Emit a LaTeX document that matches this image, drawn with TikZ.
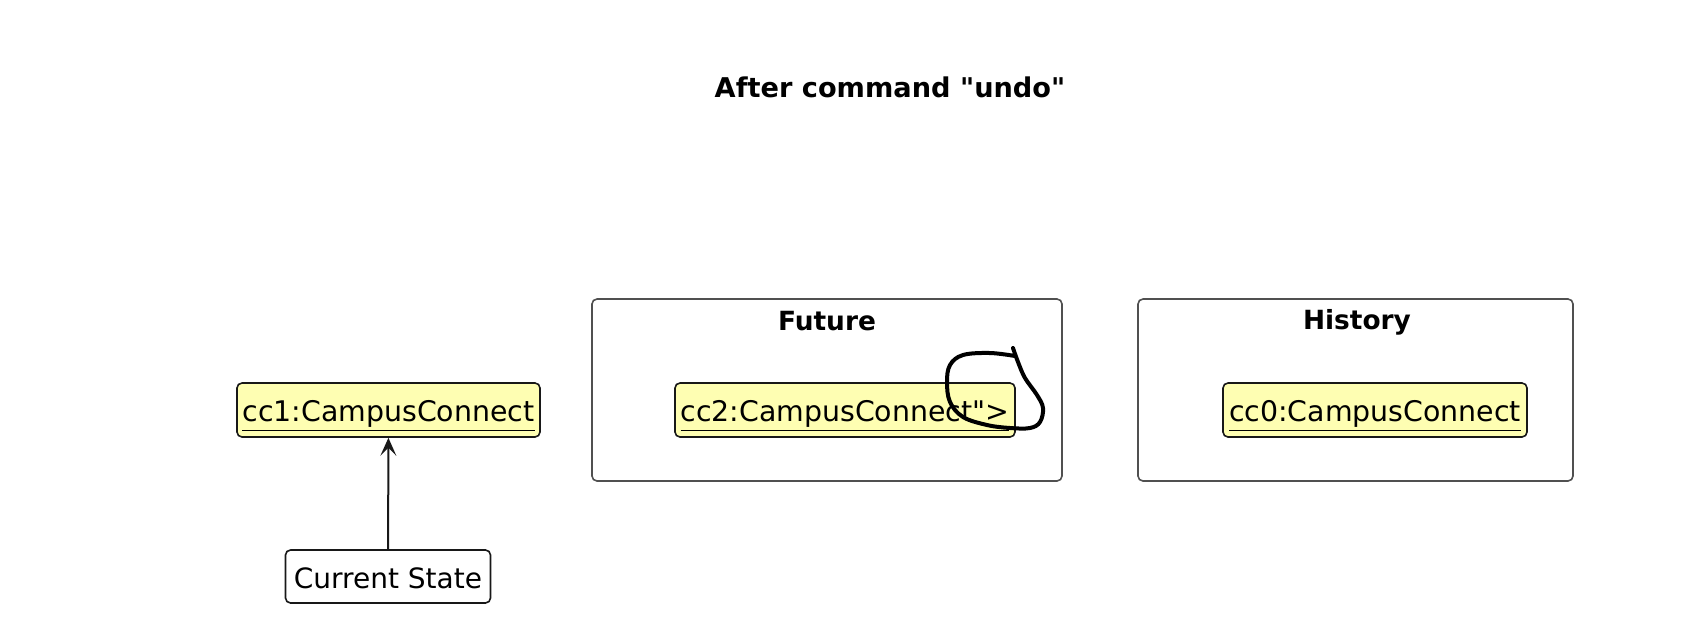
\documentclass[tikz,border=0pt]{standalone}
\usepackage{fontspec}
\setmainfont{DejaVu Sans}
\usetikzlibrary{arrows.meta}
\definecolor{objfill}{RGB}{254,254,178}
\definecolor{objline}{RGB}{24,24,24}
\definecolor{pkgline}{RGB}{80,80,80}
\newcommand{\objname}[1]{\underline{#1}}
\tikzset{
  obj/.style={draw=objline,fill=objfill,line width=0.8pt,rounded corners=2.5pt,
    inner xsep=2.5pt,minimum height=27pt,text height=12.4pt,text depth=1pt,
    font=\fontsize{14.2}{16}\selectfont},
  statebox/.style={draw=objline,fill=white,line width=0.8pt,rounded corners=2.5pt,
    minimum width=102.5pt,minimum height=26.5pt,text height=12pt,text depth=0pt,
    font=\fontsize{14}{16}\selectfont},
  pkg/.style={draw=pkgline,line width=0.8pt,rounded corners=2.5pt},
  pkgtitle/.style={font=\fontsize{13.2}{15}\bfseries\selectfont},
}
\begin{document}
\begin{tikzpicture}[x=0.5pt,y=-0.5pt]
  \useasboundingbox (0,0) rectangle (1692,634);
  \node[font=\fontsize{13.6}{16}\bfseries\selectfont] (title) at (890,87)
    {After command \textquotedbl undo\textquotedbl};
  % packages
  \node[pkg,minimum width=235pt,minimum height=91pt] (future) at (827,390) {};
  \node[pkgtitle] (futuretitle) at (827,321) {Future};
  \node[pkg,minimum width=217.5pt,minimum height=91pt] (history) at (1355.5,390) {};
  \node[pkgtitle] (historytitle) at (1357,322) {History};
  % objects
  \node[obj,minimum width=151.5pt] (cc1) at (388.5,410) {\objname{cc1:CampusConnect}};
  \node[obj,minimum width=170pt] (cc2) at (845,410) {\objname{cc2:CampusConnect\textquotedbl>}};
  \node[obj,minimum width=152pt] (cc0) at (1375,410) {\objname{cc0:CampusConnect}};
  \node[statebox] (current) at (388,576.5) {Current State};
  \draw[objline,line width=1pt,-{Stealth[length=9pt,width=8pt,inset=4pt]}] (current) -- (cc1);
  % hand drawn mark
  \draw[line width=2pt,line cap=round,line join=round] plot[smooth,tension=0.6] coordinates {
    (1013,348) (1018,362) (1025,378) (1037,395) (1043,408) (1040,422) (1030,428)
    (1010,428) (987,425) (963,417) (950,402) (947,382) (950,365) (963,355)
    (990,353) (1015,356)};
\end{tikzpicture}
\end{document}
